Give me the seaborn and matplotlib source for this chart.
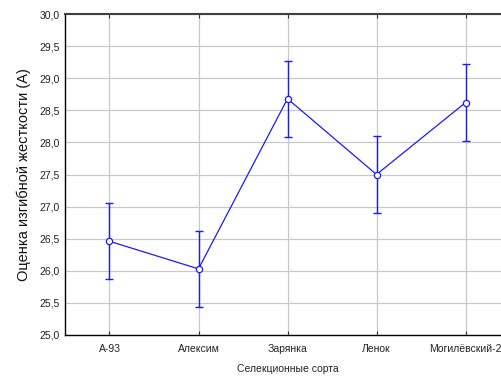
import matplotlib
matplotlib.use("Agg")
import matplotlib.pyplot as plt
import seaborn as sns
import pandas as pd

categories = ["А-93", "Алексим", "Зарянка", "Ленок", "Могилёвский-2"]
means = [26.46, 26.03, 28.68, 27.50, 28.62]
errors = [0.595, 0.595, 0.595, 0.595, 0.595]
yticks = [25.0, 25.5, 26.0, 26.5, 27.0, 27.5, 28.0, 28.5, 29.0, 29.5, 30.0]

sns.set_style("white")
plt.rcParams['font.family'] = ['Liberation Sans', 'DejaVu Sans']

df = pd.DataFrame({"x": list(range(len(categories))), "y": means, "cat": categories})

fig = plt.figure(figsize=(5.02, 3.76), dpi=100)
ax = fig.add_axes([65/502, 41/376, 445/502, 321/376])

blue = "#1a1aff"
ax.errorbar(df["x"], df["y"], yerr=errors, fmt="none", ecolor=blue,
            elinewidth=1.0, capsize=3.2, capthick=1.0, zorder=3)
sns.lineplot(data=df, x="x", y="y", ax=ax, color=blue, linewidth=0.9,
             marker="o", markersize=4.5, markerfacecolor="white",
             markeredgecolor=blue, markeredgewidth=0.9, zorder=4)

ax.set_xlim(-0.5, 4.5)
ax.set_ylim(25, 30)
ax.set_xticks(range(len(categories)))
ax.set_xticklabels(categories)
ax.set_yticks(yticks)
ax.set_yticklabels([f"{v:.1f}".replace(".", ",") for v in yticks])
ax.grid(True, color="#c8c8c8", linewidth=0.9)
ax.set_axisbelow(True)

for s in ["left", "bottom"]:
    ax.spines[s].set_color("black")
    ax.spines[s].set_linewidth(1.0)
ax.spines["top"].set_color("#404040")
ax.spines["top"].set_linewidth(1.5)
ax.spines["right"].set_visible(False)

ax.tick_params(axis="x", direction="in", length=3, width=0.8, colors="#333333",
               labelcolor="#222222", labelsize=7.5, pad=6.5, top=True, bottom=True)
ax.tick_params(axis="y", direction="in", length=0, labelsize=7.5,
               labelcolor="#222222", pad=4)

ax.set_xlabel("Селекционные сорта", fontsize=7.5, color="#222222", labelpad=7)
ax.set_ylabel("Оценка изгибной жесткости (А)", fontsize=10.5, color="#111111", labelpad=6)

fig.savefig("out.png", dpi=100)
